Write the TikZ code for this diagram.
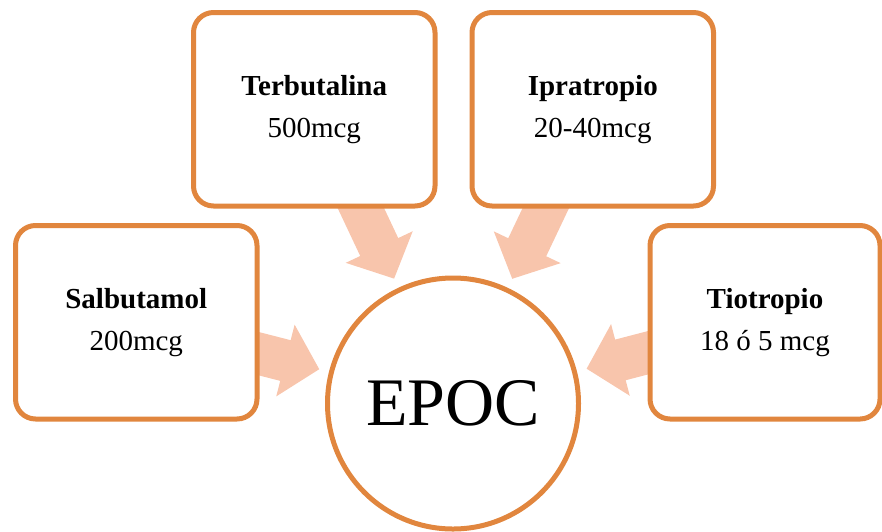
\documentclass[tikz,border=0pt]{standalone}
\usepackage{fontspec}
\setmainfont{Liberation Serif}
\usetikzlibrary{arrows.meta,backgrounds}
\definecolor{epocorange}{RGB}{225,134,62}
\definecolor{epocpeach}{RGB}{248,197,172}

\begin{document}
\begin{tikzpicture}[x=0.5pt,y=-0.5pt,
        drug/.style={draw=epocorange,line width=2.5pt,fill=white,rounded corners=10pt,
            minimum width=120.75pt,minimum height=96.75pt,align=center,
            font=\fontsize{14.5}{21}\selectfont},
        feed/.style={draw=epocpeach,line width=21pt,shorten >=5pt,
            -{Triangle[length=17.5pt,width=36pt]}}]
        \useasboundingbox (0,0) rectangle (882,531);
        \node[draw=epocorange,line width=2.5pt,circle,minimum size=125.5pt,
            font=\fontsize{34}{40}\selectfont] (epoc) at (453,403.5) {EPOC};
        \node[drug] (sal) at (136.25,322.25) {\textbf{Salbutamol}\\200mcg};
        \node[drug] (ter) at (314.25,109.25) {\textbf{Terbutalina}\\500mcg};
        \node[drug] (ipr) at (592.75,109.25) {\textbf{Ipratropio}\\20-40mcg};
        \node[drug,minimum width=115pt] (tio) at (765,322.25) {\textbf{Tiotropio}\\18 ó 5 mcg};
        \begin{pgfonlayer}{background}
            \foreach \src in {sal,ter,ipr,tio}
                \draw[feed] (\src.center) -- (epoc);
        \end{pgfonlayer}
    \end{tikzpicture}
\end{document}
